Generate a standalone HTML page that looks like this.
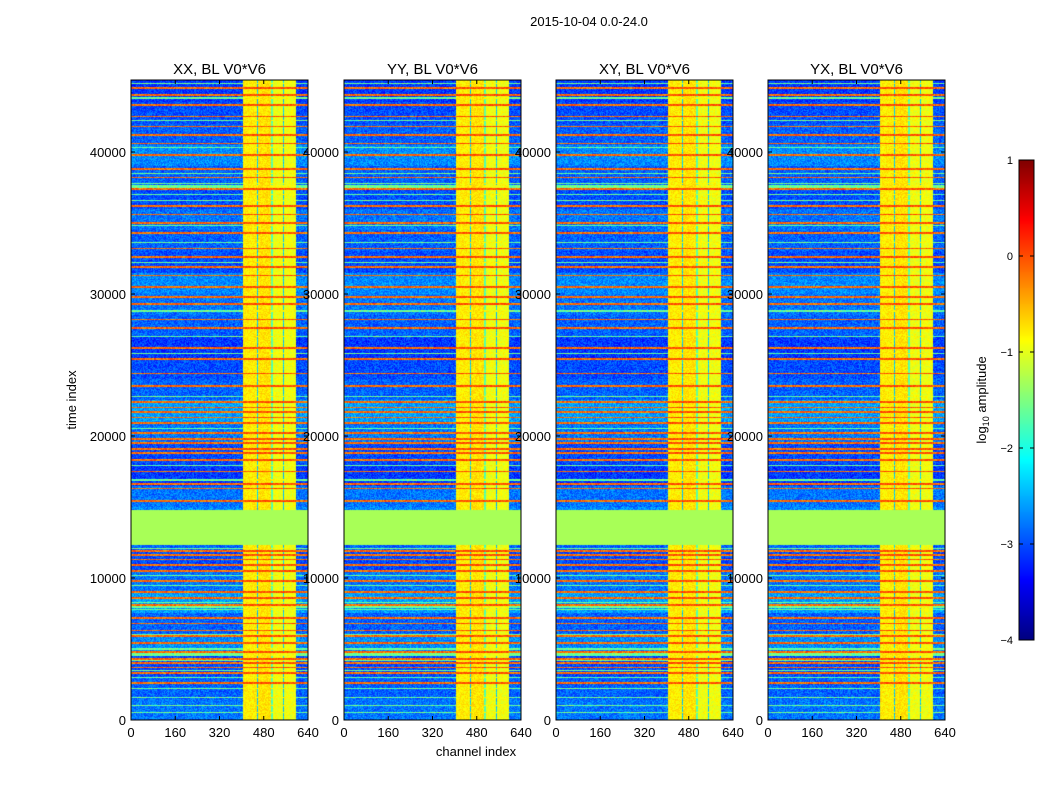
<!DOCTYPE html>
<html><head><meta charset="utf-8">
<style>
body{margin:0;background:#fff;width:1050px;height:800px;overflow:hidden;position:relative;font-family:"Liberation Sans",sans-serif}
canvas{position:absolute}
svg{position:absolute;left:0;top:0}
</style></head>
<body>
<svg id="ov" width="1050" height="800"></svg>
<script>
// ---- data (time index in thousands, log10 amplitude) ----
const panelTitles = ["XX, BL V0*V6","YY, BL V0*V6","XY, BL V0*V6","YX, BL V0*V6"];
const xTicks = [0,160,320,480,640];
const yTicks = [0,10000,20000,30000,40000];
const cbTicks = [-4,-3,-2,-1,0,1];
const flaggedRange = [12.3, 14.8];
const flaggedValue = -1.3;
const orangeStripes = [44.5,44.0,43.3,42.5,41.8,41.2,40.6,39.8,38.8,38.2,37.4,36.2,35.6,35.0,34.3,33.2,32.6,31.9,31.3,30.5,29.8,29.3,28.2,27.6,26.2,25.4,24.4,23.5,22.4,22.0,21.7,21.3,20.9,20.2,19.8,19.5,19.1,18.8,18.3,17.5,16.6,16.3,15.4,11.9,11.6,11.3,10.9,10.5,9.8,9.0,8.6,8.1,7.2,6.8,6.3,5.9,5.4,4.8,4.3,4.0,3.7,3.3,2.6];
const orangeValue = -0.15;
const greenStripes = [44.8,43.8,42.2,40.3,38.5,37.8,37.0,36.6,34.8,33.6,32.2,28.8,27.0,25.8,22.8,20.5,17.9,16.9,12.1,10.2,9.5,8.3,7.8,6.0,5.0,4.6,4.2,3.5,3.0,2.2,1.6,1.0,0.5];
const greenValue = -1.6;
const wideGreenBands = [[37.4,37.7],[7.9,8.2],[4.5,4.8]];
const bgLevels = [-2.8,-2.9,-3.0,-2.7,-2.9,-2.6,-2.8,-3.0,-2.9,-2.7,-2.8,-3.1,-3.0,-2.8,-2.6,-2.9,-3.0,-3.1,-2.9,-2.8,-2.7,-3.0,-2.9,-2.8,-3.0,-2.9,-2.7,-2.9,-3.0,-3.1];
const bandColumns = [[405,455,-0.8],[455,460,-2.4],[460,505,-0.75],[505,512,-1.7],[512,550,-0.95],[550,555,-2.4],[555,597,-0.95]];

const panelLeft=[131,344,556,768], TOP=80, W=177, H=640, TMAX=45.07, VMIN=-4, VMAX=1;
function jet(v){let x=(v-VMIN)/(VMAX-VMIN);x=Math.max(0,Math.min(1,x));
 const c=a=>Math.round(255*Math.max(0,Math.min(1,a)));
 return [c(1.5-Math.abs(4*x-3)),c(1.5-Math.abs(4*x-2)),c(1.5-Math.abs(4*x-1))];}
function tY(t){return TOP+H-(t/TMAX)*H;}
function chX(c,p){return panelLeft[p]+c/640*W;}
function hash(a,b){let h=(a*374761393+b*668265263)|0;h=(h^(h>>>13))*1274126177|0;return ((h^(h>>>16))>>>0)/4294967296;}

function valueAt(t,ch,p,px,py){
 if(t>=flaggedRange[0]&&t<=flaggedRange[1]) return flaggedValue;
 let v=bgLevels[Math.min(bgLevels.length-1,Math.floor(t/1.5))];
 let inBand=false;
 for(const b of bandColumns){if(ch>=b[0]&&ch<b[1]){v=b[2];inBand=true;}}
 for(const g of wideGreenBands){if(t>=g[0]&&t<=g[1]) v=inBand?Math.max(v,-0.9):greenValue;}
 for(const s of greenStripes){if(Math.abs(t-s)<0.04) v=inBand?Math.max(v,-0.9):greenValue;}
 for(const s of orangeStripes){if(Math.abs(t-s)<0.06) v=inBand?0.0:orangeValue;}
 return v+(hash(px+p*1000,py)-0.5)*(inBand?0.35:0.6);
}
const ov=document.getElementById('ov');
for(let p=0;p<4;p++){
 const cv=document.createElement('canvas');
 
 
 cv.width=W;cv.height=H;cv.style.left=panelLeft[p]+'px';cv.style.top=TOP+'px';
 const ctx=cv.getContext('2d');const img=ctx.createImageData(W,H);
 for(let py=0;py<H;py++){const t=(H-py-0.5)/H*TMAX;
  for(let px=0;px<W;px++){const ch=(px+0.5)/W*640;
   const [r,g,b]=jet(valueAt(t,ch,p,px,py));const i=(py*W+px)*4;
   img.data[i]=r;img.data[i+1]=g;img.data[i+2]=b;img.data[i+3]=255;}}
 ctx.putImageData(img,0,0);document.body.insertBefore(cv,ov);
}
// colorbar
const cb=document.createElement('canvas');


cb.width=15;cb.height=480;cb.style.left='1019px';cb.style.top='160px';
{const c=cb.getContext('2d');for(let y=0;y<480;y++){const v=VMAX-(y+0.5)/480*(VMAX-VMIN);const [r,g,b]=jet(v);c.fillStyle=`rgb(${r},${g},${b})`;c.fillRect(0,y,15,1);}}
document.body.insertBefore(cb,ov);

const NS='http://www.w3.org/2000/svg';
function el(tag,attrs,txt){const e=document.createElementNS(NS,tag);for(const k in attrs)e.setAttribute(k,attrs[k]);if(txt!==undefined)e.textContent=txt;ov.appendChild(e);return e;}
let e;
e=el('text',{x:589,y:26,'text-anchor':'middle','font-size':13},'2015-10-04 0.0-24.0');


for(let p=0;p<4;p++){
 const L=panelLeft[p];
 e=el('rect',{x:L,y:TOP,width:W,height:H,fill:'none',stroke:'#000','stroke-width':1});
 
 
 e=el('text',{x:L+W/2,y:74,'text-anchor':'middle','font-size':15},panelTitles[p]);
 
 
 for(const xt of xTicks){const x=chX(xt,p);
  el('line',{x1:x,x2:x,y1:TOP+H,y2:TOP+H-4,stroke:'#000'});
  el('line',{x1:x,x2:x,y1:TOP,y2:TOP+4,stroke:'#000'});
  e=el('text',{x:x,y:737,'text-anchor':'middle','font-size':13},String(xt));
  
  }
 for(const yt of yTicks){const y=tY(yt/1000);
  el('line',{x1:L,x2:L+4,y1:y,y2:y,stroke:'#000'});
  el('line',{x1:L+W,x2:L+W-4,y1:y,y2:y,stroke:'#000'});
  e=el('text',{x:L-5,y:y+5,'text-anchor':'end','font-size':13},String(yt));
  
  }
}
e=el('text',{x:476,y:756,'text-anchor':'middle','font-size':13},'channel index');


e=el('text',{x:0,y:0,'text-anchor':'middle','font-size':13,transform:'translate(76,400) rotate(-90)'},'time index');


el('rect',{x:1019,y:160,width:15,height:480,fill:'none',stroke:'#000'});
for(const v of cbTicks){const y=160+(VMAX-v)/(VMAX-VMIN)*480;
 el('line',{x1:1019,x2:1023,y1:y,y2:y,stroke:'#000'});
 el('line',{x1:1034,x2:1030,y1:y,y2:y,stroke:'#000'});
 e=el('text',{x:1013,y:y+4,'text-anchor':'end','font-size':11},v<0?'\u2212'+(-v):String(v));
 
 }
e=el('text',{x:0,y:0,'text-anchor':'middle','font-size':13,transform:'translate(986,400) rotate(-90)'});


e.innerHTML='log<tspan font-size="9" dy="3">10</tspan><tspan dy="-3"> amplitude</tspan>';
</script>
</body></html>
